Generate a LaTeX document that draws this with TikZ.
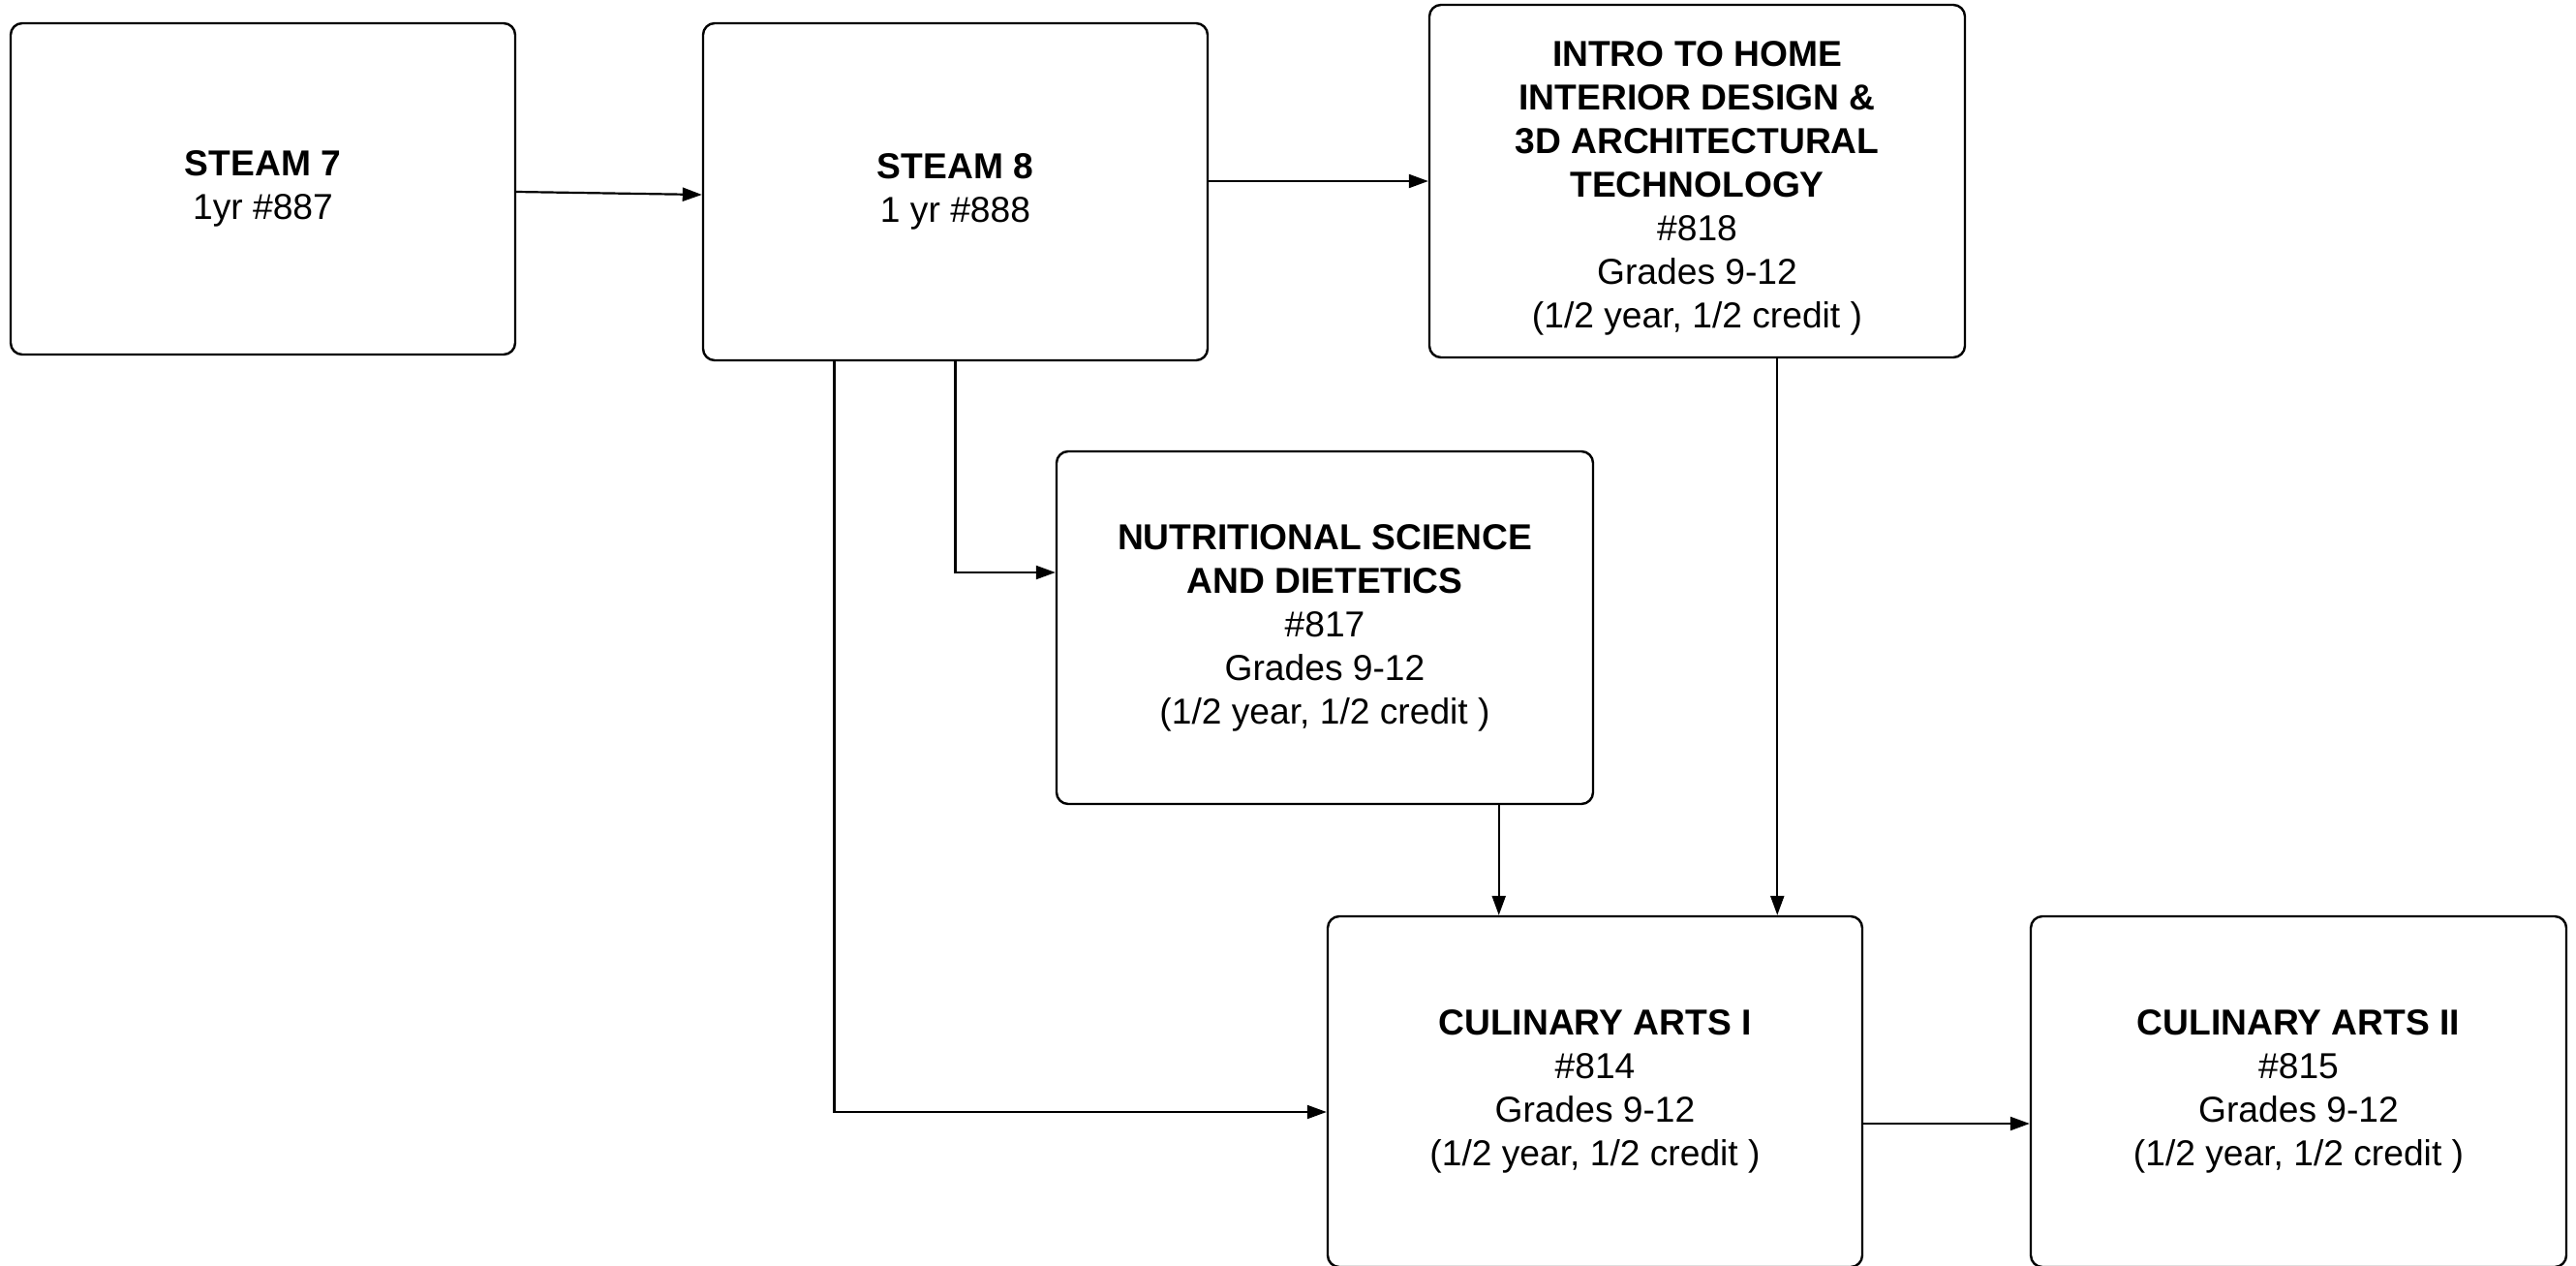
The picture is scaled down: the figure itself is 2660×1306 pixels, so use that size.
\documentclass[tikz,border=0pt]{standalone}
\usepackage{fontspec}
\setmainfont{Liberation Sans}
\usetikzlibrary{arrows.meta,calc}
\tikzset{
  box/.style={draw=black, line width=1.2pt, rounded corners=6pt, fill=white,
    align=center, inner sep=0pt, font=\fontsize{18.6}{22.5}\selectfont},
  conn/.style={draw=black, line width=1.1pt, -{Triangle[length=10pt,width=7pt]}},
}
\begin{document}
\begin{tikzpicture}[x=0.5pt,y=-0.5pt]
\useasboundingbox (0,0) rectangle (2660,1306);
\fill[white] (0,0) rectangle (2660,1306);

\node[box, minimum width=260.5pt, minimum height=171pt] (s7) at (271.5,195)
  {\textbf{STEAM 7}\\1yr \#887};
\node[box, minimum width=260.5pt, minimum height=174pt] (s8) at (986.5,198)
  {\textbf{STEAM 8}\\1 yr \#888};
\node[box, minimum width=276.5pt, minimum height=182pt] (intro) at (1752.5,187)
  {\rule{0pt}{20pt}\textbf{INTRO TO HOME}\\\textbf{INTERIOR DESIGN \&}\\\textbf{3D ARCHITECTURAL}\\\textbf{TECHNOLOGY}\\\#818\\Grades 9-12\\(1/2 year, 1/2 credit )};
\node[box, minimum width=277pt, minimum height=182pt] (nutri) at (1368,648)
  {\textbf{NUTRITIONAL SCIENCE}\\\textbf{AND DIETETICS}\\\#817\\Grades 9-12\\(1/2 year, 1/2 credit )};
\node[box, minimum width=276pt, minimum height=181pt] (cul1) at (1647,1127)
  {\textbf{CULINARY ARTS I}\\\#814\\Grades 9-12\\(1/2 year, 1/2 credit )};
\node[box, minimum width=276.5pt, minimum height=181pt] (cul2) at (2373.5,1127)
  {\textbf{CULINARY ARTS II}\\\#815\\Grades 9-12\\(1/2 year, 1/2 credit )};

% connectors
\draw[conn] ([yshift=-1.5pt]s7.east) -- ([yshift=-1.5pt]s8.west);
\draw[conn] (s8.east |- intro.west) -- (intro.west);
\draw[conn] (s8.south) |- ([yshift=28.5pt]nutri.west);
\coordinate (s8b) at ($(s8.south west)!0.261!(s8.south east)$);
\draw[conn] (s8b) |- ([yshift=-10.5pt]cul1.west);
\coordinate (nb) at ($(nutri.south west)!0.823!(nutri.south east)$);
\draw[conn] (nb) -- (nb |- cul1.north);
\coordinate (ib) at ($(intro.south west)!0.649!(intro.south east)$);
\draw[conn] (ib) -- (ib |- cul1.north);
\draw[conn] ([yshift=-16.5pt]cul1.east) -- ([yshift=-16.5pt]cul1.east -| cul2.west);
\end{tikzpicture}
\end{document}
